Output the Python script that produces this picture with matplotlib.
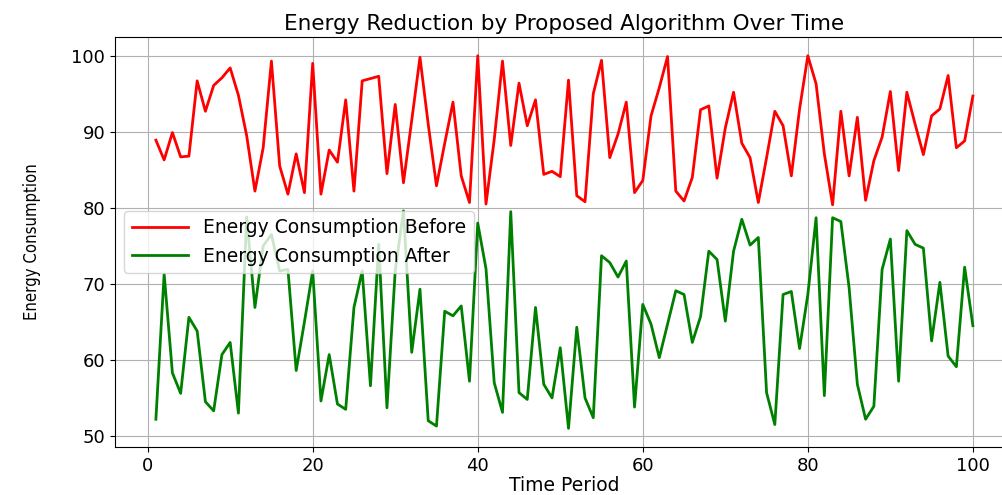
import numpy as np
import matplotlib
matplotlib.use("Agg")
import matplotlib.pyplot as plt

# time axis 1..100
time_period = np.arange(1, 101)

# values
energy_before = [
    88.9, 86.3, 89.9, 86.7, 86.8, 96.7, 92.7, 96.1, 97.1, 98.4,
    94.8, 89.5, 82.2, 87.9, 99.3, 85.5, 81.8, 87.1, 82.0, 99.0,
    81.8, 87.6, 86.0, 94.2, 82.2, 96.7, 97.0, 97.3, 84.5, 93.6,
    83.3, 91.5, 99.8, 91.0, 82.9, 88.5, 93.9, 84.2, 80.7, 100.0,
    80.5, 89.0, 99.3, 88.2, 96.4, 90.8, 94.2, 84.4, 84.8, 84.1,
    96.8, 81.6, 80.8, 95.0, 99.4, 86.6, 89.7, 93.9, 82.0, 83.6,
    92.1, 95.8, 99.9, 82.2, 80.9, 84.0, 92.9, 93.4, 83.9, 90.5,
    95.2, 88.5, 86.6, 80.7, 86.6, 92.7, 90.8, 84.2, 93.0, 100.0,
    96.3, 87.1, 80.4, 92.7, 84.2, 91.9, 81.0, 86.2, 89.3, 95.3,
    84.9, 95.2, 91.0, 87.0, 92.1, 93.0, 97.4, 87.9, 88.8, 94.7,
]

energy_after = [
    52.2, 71.3, 58.3, 55.6, 65.6, 63.8, 54.5, 53.3, 60.7, 62.3,
    53.0, 78.8, 66.9, 75.0, 76.5, 71.7, 71.9, 58.6, 65.0, 71.7,
    54.6, 60.7, 54.2, 53.5, 66.9, 71.7, 56.6, 75.2, 53.7, 71.7,
    79.6, 61.0, 69.3, 52.0, 51.3, 66.4, 65.8, 67.1, 57.2, 78.0,
    72.0, 57.0, 53.1, 79.5, 55.7, 54.8, 66.9, 56.8, 55.0, 61.6,
    51.0, 64.3, 55.0, 52.4, 73.7, 72.8, 70.9, 73.0, 53.8, 67.3,
    64.7, 60.3, 64.7, 69.1, 68.6, 62.3, 65.7, 74.3, 73.2, 65.1,
    74.3, 78.5, 75.1, 76.1, 55.7, 51.5, 68.6, 69.0, 61.5, 68.6,
    78.7, 55.3, 78.7, 78.2, 69.5, 56.8, 52.2, 53.9, 71.9, 75.9,
    57.2, 77.0, 75.2, 74.7, 62.5, 70.2, 60.5, 59.1, 72.2, 64.5,
]

fig = plt.figure(figsize=(10.03, 4.95), dpi=100)
ax = fig.add_axes([0.1147, 0.097, 0.896, 0.828])

ax.plot(time_period, energy_before, color="red", lw=2, label="Energy Consumption Before")
ax.plot(time_period, energy_after, color="green", lw=2, label="Energy Consumption After")

ax.set_title("Energy Reduction by Proposed Algorithm Over Time", fontsize=15.5, pad=5)
ax.set_xlabel("Time Period", fontsize=13.5, labelpad=1)
ax.set_ylabel("Energy Consumption", fontsize=12, fontstretch="condensed", labelpad=22)
ax.tick_params(labelsize=13)
ax.set_xticks([0, 20, 40, 60, 80, 100])
ax.set_yticks([50, 60, 70, 80, 90, 100])
ax.grid(True)
ax.legend(loc="center left", fontsize=13.5, handlelength=3)

fig.savefig("out.png", dpi=100)
